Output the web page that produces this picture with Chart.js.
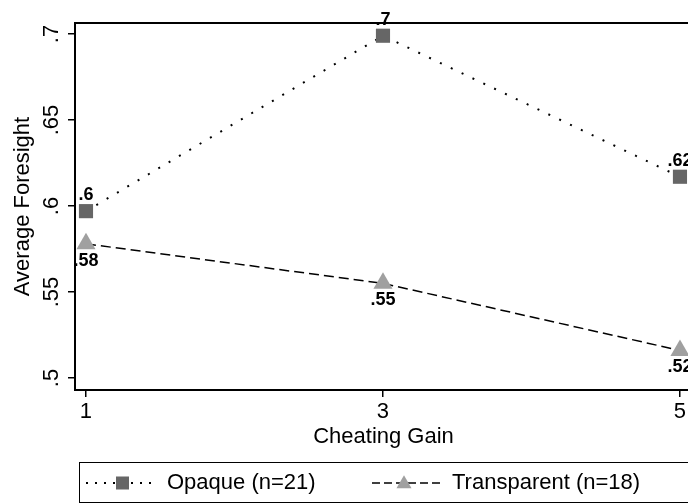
<!DOCTYPE html>
<html>
<head>
<meta charset="utf-8">
<script src="https://cdn.jsdelivr.net/npm/chart.js@4/dist/chart.umd.min.js"></script>
<style>
  html, body { margin: 0; padding: 0; background: #fff; overflow: hidden; }
  #wrap { width: 720px; height: 504px; }
</style>
</head>
<body>
<div id="wrap"><canvas id="grafico" width="720" height="504"></canvas></div>
<script>
// dados
const ganho = [1, 3, 5];
const opaco = [0.597, 0.699, 0.617];
const transparente = [0.578, 0.555, 0.516];
const rotulosOpaco = ['.6', '.7', '.62'];
const rotulosTransparente = ['.58', '.55', '.52'];
const ticksX = [1, 3, 5];
const ticksY = [0.5, 0.55, 0.6, 0.65, 0.7];
const rotulosY = ['.5', '.55', '.6', '.65', '.7'];
const nomesLegenda = ['Opaque (n=21)', 'Transparent (n=18)'];

const FONTE = "'Liberation Sans', Arial, Helvetica, sans-serif";
Chart.defaults.font.family = FONTE;
Chart.defaults.color = '#000';

const corQuadrado = '#666666';
const corTriangulo = '#a0a0a0';

// rotulos dos pontos (desenhados antes da moldura, que fica por cima)
const rotulosPontos = {
  id: 'rotulosPontos',
  beforeDatasetsDraw(chart) {
    const ctx = chart.ctx;
    ctx.save();
    ctx.font = 'bold 18px ' + FONTE;
    ctx.fillStyle = '#000';
    ctx.textAlign = 'center';
    ctx.textBaseline = 'middle';
    const conjuntos = [[rotulosOpaco, -16], [rotulosTransparente, 17]];
    conjuntos.forEach(([rotulos, desloc], d) => {
      chart.getDatasetMeta(d).data.forEach((p, i) => {
        ctx.fillText(rotulos[i], p.x, p.y + desloc);
      });
    });
    ctx.restore();
  }
};

// moldura da area do grafico
const moldura = {
  id: 'moldura',
  beforeDatasetsDraw(chart) {
    const { ctx, chartArea: a } = chart;
    ctx.save();
    ctx.strokeStyle = '#000';
    ctx.lineWidth = 2;
    ctx.strokeRect(a.left, a.top, a.right - a.left, a.bottom - a.top);
    ctx.restore();
  }
};

// legenda no estilo do Stata
const legenda = {
  id: 'legenda',
  afterDraw(chart) {
    const ctx = chart.ctx;
    const yMeio = 483;
    ctx.save();
    ctx.strokeStyle = '#000';
    ctx.lineWidth = 1;
    ctx.strokeRect(79.5, 462.5, 640, 40);

    // item 1
    ctx.lineWidth = 2;
    ctx.setLineDash([2, 7]);
    ctx.beginPath();
    ctx.moveTo(86, yMeio);
    ctx.lineTo(158, yMeio);
    ctx.stroke();
    ctx.setLineDash([]);
    ctx.fillStyle = corQuadrado;
    ctx.fillRect(116, yMeio - 6.5, 13, 13);

    // item 2
    ctx.lineWidth = 1.5;
    ctx.setLineDash([8, 4]);
    ctx.beginPath();
    ctx.moveTo(372, yMeio);
    ctx.lineTo(442, yMeio);
    ctx.stroke();
    ctx.setLineDash([]);
    ctx.fillStyle = corTriangulo;
    const r = 8.7, cx = 404, cy = yMeio + 1;
    ctx.beginPath();
    ctx.moveTo(cx, cy - r);
    ctx.lineTo(cx + r * Math.sin(2 * Math.PI / 3), cy + r / 2);
    ctx.lineTo(cx - r * Math.sin(2 * Math.PI / 3), cy + r / 2);
    ctx.closePath();
    ctx.fill();

    ctx.fillStyle = '#000';
    ctx.font = '22px ' + FONTE;
    ctx.textAlign = 'left';
    ctx.textBaseline = 'middle';
    ctx.fillText(nomesLegenda[0], 167, yMeio);
    ctx.fillText(nomesLegenda[1], 452, yMeio);
    ctx.restore();
  }
};

new Chart(document.getElementById('grafico'), {
  type: 'line',
  data: {
    datasets: [
      {
        label: nomesLegenda[0],
        data: ganho.map((x, i) => ({ x: x, y: opaco[i] })),
        borderColor: '#000',
        borderWidth: 2,
        borderDash: [2, 10],
        pointStyle: 'rect',
        pointRadius: 10,
        pointHoverRadius: 10,
        pointBackgroundColor: corQuadrado,
        pointBorderWidth: 0,
        tension: 0
      },
      {
        label: nomesLegenda[1],
        data: ganho.map((x, i) => ({ x: x, y: transparente[i] })),
        borderColor: '#000',
        borderWidth: 1.5,
        borderDash: [10, 5],
        pointStyle: 'triangle',
        pointRadius: 11,
        pointHoverRadius: 11,
        pointBackgroundColor: corTriangulo,
        pointBorderWidth: 0,
        tension: 0
      }
    ]
  },
  options: {
    responsive: false,
    animation: false,
    events: [],
    layout: { padding: { left: 6, top: 23, right: 28, bottom: 50 } },
    plugins: { legend: { display: false }, tooltip: { enabled: false } },
    scales: {
      x: {
        type: 'linear',
        min: 0.926,
        max: 5.081,
        afterBuildTicks: (s) => { s.ticks = ticksX.map(v => ({ value: v })); },
        afterFit: (s) => { s.height = 64; },
        ticks: { font: { size: 22 }, color: '#000', padding: 2, callback: (v) => String(v) },
        grid: { drawOnChartArea: false, tickLength: 7, color: '#000', lineWidth: 1.5 },
        border: { display: false },
        title: { display: true, text: 'Cheating Gain', font: { size: 22 }, color: '#000', padding: { top: 4, bottom: 4 } }
      },
      y: {
        min: 0.493,
        max: 0.7064,
        afterBuildTicks: (s) => { s.ticks = ticksY.map(v => ({ value: v })); },
        afterFit: (s) => { s.width = 69; },
        ticks: {
          font: { size: 22 }, color: '#000', padding: 1,
          minRotation: 90, maxRotation: 90, crossAlign: 'center',
          callback: (v) => rotulosY[ticksY.indexOf(v)]
        },
        grid: { drawOnChartArea: false, tickLength: 7, color: '#000', lineWidth: 1.5 },
        border: { display: false },
        title: { display: true, text: 'Average Foresight', font: { size: 22 }, color: '#000', padding: { top: 4, bottom: 4 } }
      }
    }
  },
  plugins: [rotulosPontos, moldura, legenda]
});
</script>
</body>
</html>
